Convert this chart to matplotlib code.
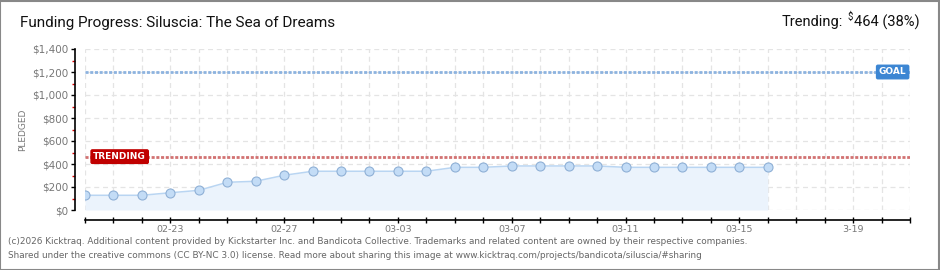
import matplotlib
matplotlib.use("Agg")
import matplotlib.pyplot as plt
from matplotlib.patches import Rectangle
import pandas as pd

# data
dates = ["2026-02-20", "2026-02-21", "2026-02-22", "2026-02-23", "2026-02-24",
         "2026-02-25", "2026-02-26", "2026-02-27", "2026-02-28", "2026-03-01",
         "2026-03-02", "2026-03-03", "2026-03-04", "2026-03-05", "2026-03-06",
         "2026-03-07", "2026-03-08", "2026-03-09", "2026-03-10", "2026-03-11",
         "2026-03-12", "2026-03-13", "2026-03-14", "2026-03-15", "2026-03-16"]
pledged = [128, 128, 128, 150, 171, 241, 250, 302, 337, 337,
           337, 337, 337, 371, 371, 383, 383, 383, 383, 371,
           371, 371, 371, 371, 371]
goal = 1200
trending = 464
x_start, x_end = "2026-02-20", "2026-03-21"
label_days = ["2026-02-23", "2026-02-27", "2026-03-03", "2026-03-07",
              "2026-03-11", "2026-03-15", "2026-03-19"]
label_text = ["02-23", "02-27", "03-03", "03-07", "03-11", "03-15", "3-19"]
ytick_text = ["$0", "$200", "$400", "$600", "$800", "$1,000", "$1,200", "$1,400"]

plt.rcParams["font.family"] = ["DejaVu Sans"]
narrow = ["Roboto", "DejaVu Sans"]
x = pd.to_datetime(dates)

fig = plt.figure(figsize=(9.4, 2.7), dpi=100)
ax = fig.add_axes([85 / 940, 1 - 210 / 270, 825 / 940, 161 / 270])

x0, x1 = pd.Timestamp(x_start), pd.Timestamp(x_end)
ax.set_xlim(x0, x1)
ax.set_ylim(0, 1400)

# grid: every day, every $200
ticks = pd.date_range(x0, x1, freq="D")
ax.set_xticks(ticks)
ax.set_yticks(range(0, 1401, 200))
ax.set_yticks(range(100, 1400, 200), minor=True)
ax.grid(True, which="major", color="#e4e4e4", linestyle=(0, (4, 3)), lw=0.9)
ax.set_axisbelow(True)

# area + line + points
ax.fill_between(x, 0, pledged, color="#ebf3fc", lw=0, zorder=1)
ax.plot(x, pledged, color="#b9d5f2", lw=1.1, zorder=3)
ax.plot(x, pledged, "o", ms=6.5, mfc="#c3dcf6", mec="#8fb0d6", mew=0.8, zorder=4)

# goal / trending lines (chunky square dots)
ax.axhline(goal, color="#8db3df", lw=2.0, linestyle=(0, (1.1, 0.6)), zorder=2)
ax.axhline(trending, color="#d27272", lw=2.0, linestyle=(0, (1.1, 0.6)), zorder=2)

tb = dict(boxstyle="round,pad=0.25,rounding_size=0.15", fc="#c00000", ec="#c00000")
ax.text(pd.Timestamp("2026-02-20 07:00"), trending, "TRENDING", color="white",
        fontsize=6.5, fontweight="bold", va="center", ha="left", bbox=tb, zorder=6)
gb = dict(boxstyle="round,pad=0.25,rounding_size=0.15", fc="#3c86d3", ec="#3c86d3")
ax.text(pd.Timestamp("2026-03-20 21:00"), goal, "GOAL", color="white",
        fontsize=6.5, fontweight="bold", va="center", ha="right", bbox=gb, zorder=6)

# spines
for s in ["top", "right"]:
    ax.spines[s].set_visible(False)
ax.spines["left"].set_position(("outward", 7))
ax.spines["bottom"].set_position(("outward", 7.5))
ax.spines["left"].set_linewidth(1.2)
ax.spines["bottom"].set_linewidth(1.2)

ax.set_yticklabels(ytick_text)
ax.tick_params(axis="y", which="major", length=3, width=1, colors="black",
               labelcolor="#777777", labelsize=7.5, pad=2)
ax.tick_params(axis="y", which="minor", length=2.5, width=1, colors="#dd0000")
ax.tick_params(axis="x", which="major", length=5, width=1, direction="inout",
               labelsize=6.8, labelcolor="#777777", pad=1)

lab = {pd.Timestamp(d): t for d, t in zip(label_days, label_text)}
ax.set_xticklabels([lab.get(t, "") for t in ticks])

ax.set_ylabel("PLEDGED", color="#777777", fontsize=6.5, labelpad=4)
ax.yaxis.set_label_coords(-58 / 825, 0.5)

# header
fig.text(20 / 940, 1 - 23 / 270, "Funding Progress: Siluscia: The Sea of Dreams",
         fontsize=11, va="center", ha="left", color="#111111", family=narrow)
fig.canvas.draw()
r = fig.canvas.get_renderer()
t1 = fig.text(920 / 940, 1 - 22 / 270, "464 (38%)", family=narrow,
              fontsize=10.5, va="center", ha="right", color="#111111")
bb = t1.get_window_extent(r)
t2 = fig.text((bb.x0 - 1) / 940, 1 - 17 / 270, "$", family=narrow,
              fontsize=7, va="center", ha="right", color="#111111")
bb2 = t2.get_window_extent(r)
fig.text((bb2.x0 - 5) / 940, 1 - 22 / 270, "Trending:", family=narrow,
         fontsize=10.5, va="center", ha="right", color="#111111")

# footer
fig.text(8 / 940, 1 - 242 / 270,
         "(c)2026 Kicktraq. Additional content provided by Kickstarter Inc. and Bandicota "
         "Collective. Trademarks and related content are owned by their respective companies.",
         fontsize=6.4, color="#666666", va="center")
fig.text(8 / 940, 1 - 256 / 270,
         "Shared under the creative commons (CC BY-NC 3.0) license. Read more about sharing "
         "this image at www.kicktraq.com/projects/bandicota/siluscia/#sharing",
         fontsize=6.4, color="#666666", va="center")

# outer frame
fig.patches.append(Rectangle((0.0005, 0.0015), 0.998, 0.996, transform=fig.transFigure,
                             fill=False, ec="#888888", lw=1.5))

fig.savefig("out.png", dpi=100)
